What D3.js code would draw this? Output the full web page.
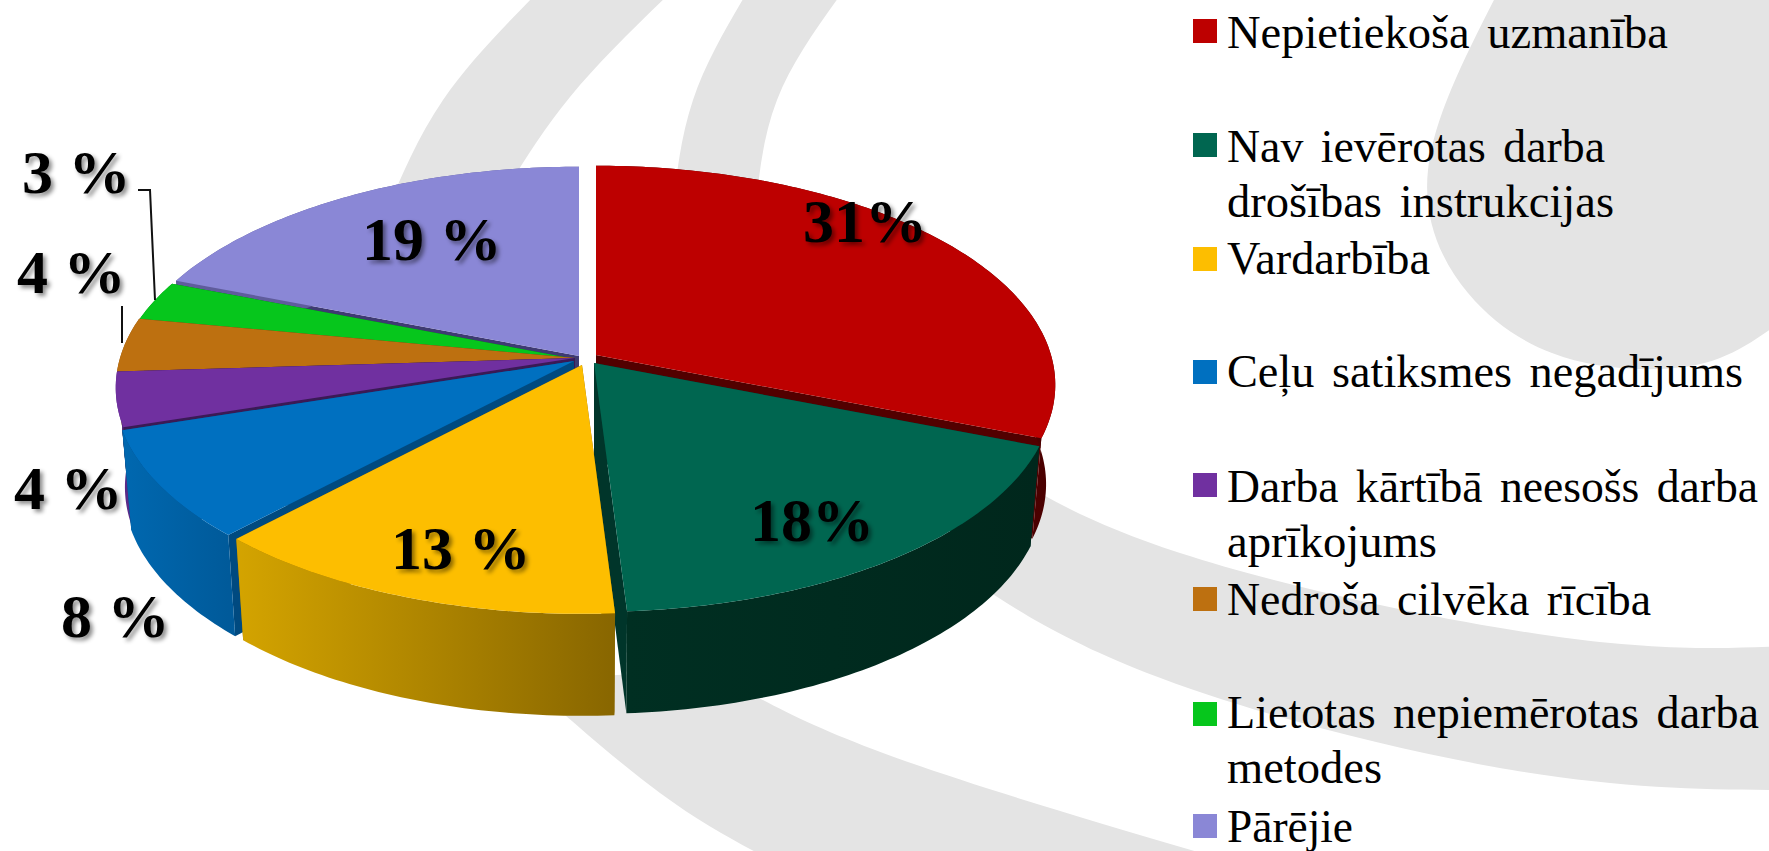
<!DOCTYPE html>
<html>
<head>
<meta charset="utf-8">
<script src="https://cdn.jsdelivr.net/npm/d3@7"></script>
<style>
  html, body { margin: 0; padding: 0; background: #fff; overflow: hidden; }
  svg { display: block; }
  text { font-family: "Liberation Serif", "Times New Roman", serif; fill: #000; }
</style>
</head>
<body>
<div id="chart"></div>
<script>
const categories = ['Nepietiekoša uzmanība', 'Nav ievērotas darba drošības instrukcijas', 'Vardarbība',
  'Ceļu satiksmes negadījums', 'Darba kārtībā neesošs darba aprīkojums', 'Nedroša cilvēka rīcība',
  'Lietotas nepiemērotas darba metodes', 'Pārējie'];
const values = [31, 18, 13, 8, 4, 4, 3, 19];
const valueLabels = ['31%', '18%', '13 %', '8 %', '4 %', '4 %', '3 %', '19 %'];
const legendLines = [['Nepietiekoša uzmanība'], ['Nav ievērotas darba', 'drošības instrukcijas'], ['Vardarbība'],
  ['Ceļu satiksmes negadījums'], ['Darba kārtībā neesošs darba', 'aprīkojums'], ['Nedroša cilvēka rīcība'],
  ['Lietotas nepiemērotas darba', 'metodes'], ['Pārējie']];
// right end of every legend line
const legendEnds = [[1668], [1605, 1614], [1430], [1743], [1758, 1437], [1651], [1759, 1382], [1353]];

// colours per slice
const topColors = ['#bd0000', '#006650', '#fdbe00', '#0070c0', '#7030a0', '#bd7010', '#06c61c', '#8a87d6'];
const wallColors = ['#520000', '#00352a', '#8a6800', '#004a80', '#3a1a55', '#5e3a10', '#036b12', '#3e3a72'];
const rimLeft = ['#5a0000', '#002f22', '#d4a400', '#0068b0', '#5a2a88', '#8a5410', '#048a14', '#5f5c9c'];
const rimRight = ['#4a0000', '#00271c', '#886600', '#005a9a', '#5a2a88', '#8a5410', '#048a14', '#5f5c9c'];

// where each slice's apex sits on screen
const apexX = [596, 594, 582, 574, 575, 575, 575, 579];
const apexY = [355, 363, 365, 361, 358, 358, 359, 356];

const drawOrder = [0, 7, 6, 5, 4, 3, 1, 2];

// label layout: left edge and baseline
const labelX = [803, 750, 391, 61, 14, 17, 22, 362];
const labelY = [242, 541, 569, 637, 509, 293, 193, 260];

// legend layout
const swatchY = [19, 133, 247, 360, 473, 587, 702, 814];
const legendBase = [48, 162, 274, 387, 502, 615, 728, 842];
const lineGap = 55;

const width = 1769, height = 851;
const rx = 455, ry = 215, persp = 0.136, depth = 99, depthZ = 3, shrink = 0.98;

const svg = d3.select('#chart').append('svg').attr('width', width).attr('height', height);
const defs = svg.append('defs');

svg.append('rect').attr('width', width).attr('height', height).attr('fill', '#fff');

// grey swooshes behind the chart: two edges of each, smoothed separately
const edge = d3.line().curve(d3.curveNatural);
const swooshes = [
  [[[536, -6], [443, 100], [385, 215]], [[669, -6], [570, 97], [500, 200]]],
  [[[746, -6], [693, 100], [672, 215]], [[841, -6], [777, 100], [755, 215]]],
  [[[970, 450], [1180, 553], [1552, 636], [1790, 646]], [[930, 550], [1147, 673], [1512, 770], [1790, 790]]],
  [[[525, 680], [660, 793], [765, 857]], [[710, 670], [883, 753], [1225, 860]]]
];
swooshes.forEach(s => {
  const back = edge(s[1].slice().reverse());
  svg.append('path').attr('d', edge(s[0]) + 'L' + back.slice(1) + 'Z').attr('fill', '#e4e4e4');
});
const circleEdge = [[1497, -6], [1428, 170], [1468, 293], [1552, 353], [1640, 369], [1720, 358], [1790, 315]];
svg.append('path').attr('d', edge(circleEdge) + 'L1790,-6Z').attr('fill', '#e4e4e4');

// perspective disc: angle measured clockwise from the top, level 0 = top face, 1 = bottom face
function project(i, a, level) {
  const X = Math.sin(a), Z = -Math.cos(a);
  const w = 1 - persp * Z;
  const sx = level ? shrink : 1;
  return [
    apexX[i] + sx * rx * X / w,
    apexY[i] + ry * Z / w + (level ? depth + depthZ * Z : 0)
  ];
}

function arcPoints(i, a0, a1, level) {
  const n = Math.max(2, Math.ceil((a1 - a0) * 60));
  return d3.range(n + 1).map(k => project(i, a0 + (a1 - a0) * k / n, level));
}

const pie = d3.pie().sort(null).value(d => d);
const arcs = pie(values);
const line = d3.line();

function apexAt(i, level) {
  return [apexX[i], apexY[i] + (level ? depth : 0)];
}

drawOrder.forEach(i => {
  const d = arcs[i];
  const g = svg.append('g').attr('class', 'slice');

  const id = 'rim' + i;
  const grad = defs.append('linearGradient').attr('id', id)
    .attr('gradientUnits', 'userSpaceOnUse')
    .attr('x1', d3.min(arcPoints(i, d.startAngle, d.endAngle, 0), p => p[0])).attr('y1', 0)
    .attr('x2', d3.max(arcPoints(i, d.startAngle, d.endAngle, 0), p => p[0])).attr('y2', 0);
  grad.append('stop').attr('offset', 0).attr('stop-color', rimLeft[i]);
  grad.append('stop').attr('offset', 1).attr('stop-color', rimRight[i]);

  // two cut walls
  [d.startAngle, d.endAngle].forEach(a => {
    g.append('path')
      .attr('d', line([apexAt(i, 0), project(i, a, 0), project(i, a, 1), apexAt(i, 1)]) + 'Z')
      .attr('fill', wallColors[i]);
  });

  // outer rim
  const rimTop = arcPoints(i, d.startAngle, d.endAngle, 0);
  const rimBottom = arcPoints(i, d.startAngle, d.endAngle, 1).reverse();
  g.append('path').attr('d', line(rimTop.concat(rimBottom)) + 'Z').attr('fill', `url(#${id})`);

  // top face
  g.append('path')
    .attr('d', line([apexAt(i, 0)].concat(rimTop)) + 'Z')
    .attr('fill', topColors[i]);
});

// leader lines for the two small slices
const leaders = [
  [[138, 190], [150, 190], [155, 300]],
  [[122, 306], [122, 343]]
];
leaders.forEach(l => {
  svg.append('path').attr('d', line(l)).attr('fill', 'none').attr('stroke', '#111').attr('stroke-width', 2);
});

// percent labels
const shadow = defs.append('filter').attr('id', 'labelShadow')
  .attr('x', '-20%').attr('y', '-20%').attr('width', '140%').attr('height', '140%');
shadow.append('feDropShadow').attr('dx', 3).attr('dy', 3).attr('stdDeviation', 2)
  .attr('flood-color', '#000').attr('flood-opacity', 0.45);

svg.selectAll('text.pct').data(valueLabels).enter().append('text')
  .attr('class', 'pct')
  .attr('x', (d, i) => labelX[i])
  .attr('y', (d, i) => labelY[i])
  .attr('font-size', 62)
  .attr('font-weight', 'bold')
  .attr('filter', 'url(#labelShadow)')
  .text(d => d);

// legend
const legendLeft = 1227;
const legend = svg.append('g').attr('class', 'legend');
categories.forEach((c, i) => {
  legend.append('rect')
    .attr('x', 1193).attr('y', swatchY[i]).attr('width', 24).attr('height', 24)
    .attr('fill', topColors[i]);
  legendLines[i].forEach((t, k) => {
    legend.append('text')
      .attr('x', legendLeft)
      .attr('y', legendBase[i] + k * lineGap)
      .attr('font-size', 46)
      .attr('word-spacing', 6)
      .attr('textLength', legendEnds[i][k] - legendLeft)
      .attr('lengthAdjust', 'spacingAndGlyphs')
      .text(t);
  });
});
</script>
</body>
</html>
